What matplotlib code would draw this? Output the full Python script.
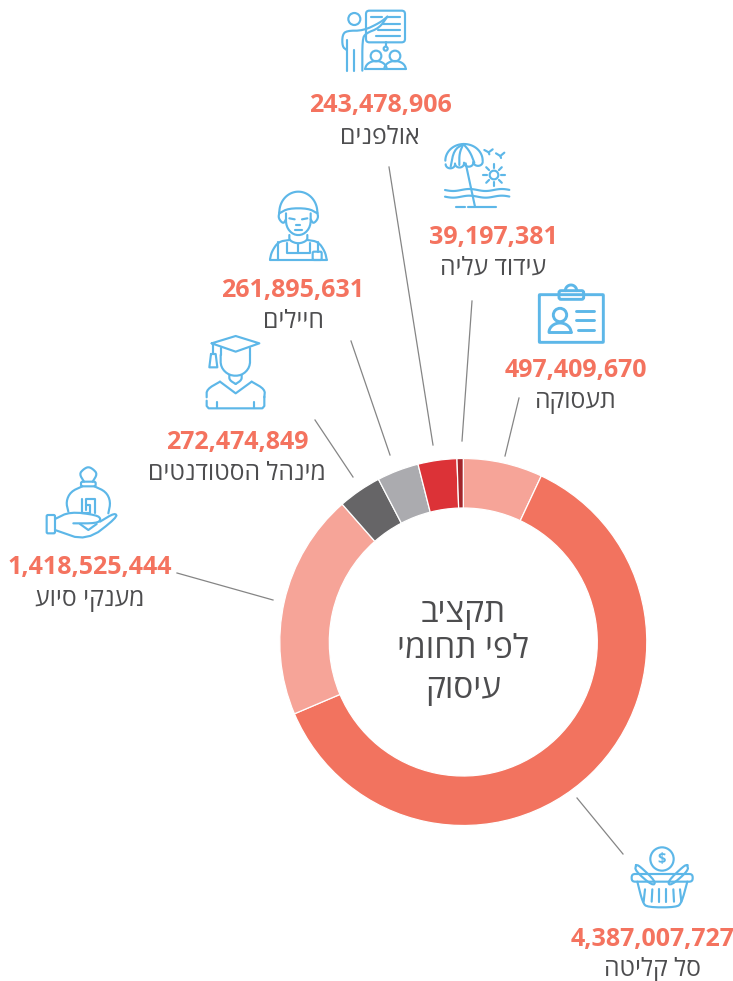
import numpy as np
import matplotlib

matplotlib.use("Agg")
import matplotlib.pyplot as plt
from matplotlib.patches import Circle, FancyBboxPatch

plt.rcParams["font.family"] = ["Open Sans", "DejaVu Sans"]

# Datos, en sentido horario desde las 12
categorias = ["תעסוקה", "סל קליטה", "מענקי סיוע", "מינהל הסטודנטים",
              "חיילים", "אולפנים", "עידוד עליה"]
valores = [497409670, 4387007727, 1418525444, 272474849,
           261895631, 243478906, 39197381]
colores = ["#F6A498", "#F2735F", "#F6A498", "#666567",
           "#ABABAF", "#DC3237", "#A3262B"]
titulo_centro = ["תקציב", "לפי תחומי", "עיסוק"]

# Posición en píxeles del rótulo (x, y número, y texto) y de la línea guía
rotulos = [(576, 370.5, 402), (653, 939.5, 970), (90, 567.5, 599), (237, 442.5, 473),
           (293, 290.5, 321), (380, 105.5, 137), (493, 237.5, 268)]
guias = [((519, 398), (505, 456)), ((577, 798), (623, 854)),
         ((177, 573), (273, 600)), ((315, 420), (353, 477)),
         ((351, 341), (390, 455)), ((389, 167), (433, 445)),
         ((472, 301), (462, 441))]

AZUL = "#5DB7E8"
CORAL = "#F4735F"
GRIS = "#4D4D4F"
W, H = 733, 981

fig = plt.figure(figsize=(W / 100, H / 100), dpi=100, facecolor="white")
ax = fig.add_axes([0, 0, 1, 1])
ax.set_xlim(0, W)
ax.set_ylim(H, 0)
ax.axis("off")

# Dona
cx, cy, r = 463.3, 642, 183.5
ax_pie = fig.add_axes([(cx - r) / W, (H - cy - r) / H, 2 * r / W, 2 * r / H])
ax_pie.pie(valores, colors=colores, startangle=90, counterclock=False, radius=1,
           wedgeprops=dict(width=49.5 / r, edgecolor="white", linewidth=0.9))
ax_pie.set_xlim(-1, 1)
ax_pie.set_ylim(-1, 1)


def heb(txt):
    # matplotlib no aplica bidi: se invierte el orden a mano
    return txt[::-1]


for (x0, y0), (x1, y1) in guias:
    ax.plot([x0, x1], [y0, y1], color="#858585", lw=0.9)

for nombre, valor, (x, y_num, y_txt) in zip(categorias, valores, rotulos):
    ax.text(x, y_num, f"{valor:,}", color=CORAL, fontsize=18, fontweight="bold",
            ha="center", va="center")
    ax.text(x, y_txt, heb(nombre), color=GRIS, fontsize=17.8,
            ha="center", va="center")

for linea, y in zip(titulo_centro, [614, 650, 690]):
    ax.text(463, y, heb(linea), color=GRIS, fontsize=24, ha="center", va="center")


def suave(pts, n=2):
    pts = np.asarray(pts, float)
    for _ in range(n):
        q = 0.75 * pts[:-1] + 0.25 * pts[1:]
        s = 0.25 * pts[:-1] + 0.75 * pts[1:]
        pts = np.vstack([pts[0], np.column_stack([q, s]).reshape(-1, 2), pts[-1]])
    return pts


def arco(x, y, rx, ry, a0=0, a1=180):
    t = np.radians(np.linspace(a0, a1, 40))
    return np.column_stack([x + rx * np.cos(t), y - ry * np.sin(t)])


class Icono:
    def __init__(self, ox, oy, lw=1.55):
        self.ox, self.oy, self.lw = ox, oy, lw

    def z(self, pts):
        pts = np.asarray(pts, float)
        return self.ox + pts[:, 0] / 3, self.oy + pts[:, 1] / 3

    def l(self, *trazos):
        for pts in trazos:
            x, y = self.z(pts)
            ax.plot(x, y, color=AZUL, lw=self.lw, solid_capstyle="round",
                    solid_joinstyle="round")

    def s(self, *trazos):
        self.l(*[suave(p) for p in trazos])

    def c(self, x, y, radio):
        ax.add_patch(Circle((self.ox + x / 3, self.oy + y / 3), radio / 3,
                            fill=False, ec=AZUL, lw=self.lw))

    def r(self, x0, y0, x1, y1, pad=6):
        ax.add_patch(FancyBboxPatch(
            (self.ox + x0 / 3, self.oy + y0 / 3), (x1 - x0) / 3, (y1 - y0) / 3,
            boxstyle=f"round,pad=0,rounding_size={pad / 3}",
            fill=False, ec=AZUL, lw=self.lw))


# Pizarra y alumnos
i = Icono(300, 0)
i.r(198, 32, 315, 127, 10)
i.l([(212, 50), (245, 50)], [(262, 50), (300, 50)], [(250, 72), (300, 72)],
    [(235, 90), (300, 90)], [(228, 108), (300, 108)])
i.c(163, 57, 18)
i.s([(140, 150), (127, 140), (127, 105), (140, 92), (190, 92), (240, 68), (262, 50)])
i.s([(187, 212), (187, 118), (197, 100), (238, 84), (262, 50)])
i.l([(140, 120), (140, 212)], [(163, 150), (163, 212)])
i.l([(257, 127), (257, 138)])
i.c(257, 146, 6)
i.c(228, 168, 16)
i.c(285, 168, 16)
i.l(arco(228, 207, 32, 24), arco(285, 207, 32, 24), [(196, 207), (317, 207)])

# Sombrilla
i = Icono(300, 0)
i.l(arco(492, 482, 56, 50))
bordes = [437, 465, 492, 520, 548]
for a, b in zip(bordes[:-1], bordes[1:]):
    i.l(arco((a + b) / 2, 493 - (a - 437) * 0.09, (b - a) / 2, 12, 180, 360))
i.s([(490, 432), (462, 450), (452, 500)], [(490, 432), (478, 460), (478, 495)],
    [(490, 432), (510, 455), (523, 488)])
i.l([(497, 490), (525, 620)])
for yo in [570, 590]:
    xo = np.linspace(435, 628, 60)
    i.l(np.column_stack([xo, yo + 3 * np.sin((xo - 435) / 15.5)]))
i.l([(468, 620), (495, 620)], [(503, 620), (588, 620)])
i.c(582, 525, 13)
for ang in np.radians(np.arange(0, 360, 45)):
    i.l([(582 + 21 * np.cos(ang), 525 + 21 * np.sin(ang)),
         (582 + 33 * np.cos(ang), 525 + 33 * np.sin(ang))])
i.l([(553, 450), (566, 457), (578, 448)], [(588, 460), (601, 468), (613, 458)],
    [(566, 457), (568, 463)], [(601, 468), (603, 474)])

# Credencial
i = Icono(300, 0, lw=2.1)
i.r(718, 884, 910, 1027, 2)
i.l(arco(813, 872, 17, 17, 0, 180))
i.r(777, 872, 851, 898, 6)
i.c(780, 945, 20)
i.l(arco(780, 997, 33, 28), [(747, 997), (813, 997)])
i.l([(828, 932), (882, 932)], [(828, 961), (882, 961)], [(835, 990), (882, 990)])

# Soldado
i = Icono(0, 180)
i.l(arco(895, 97, 57, 62))
i.s([(838, 97), (835, 115), (850, 132), (858, 118)],
    [(952, 97), (955, 115), (940, 132), (932, 118)],
    [(838, 100), (865, 85), (925, 85), (952, 100)],
    [(858, 100), (858, 140), (880, 165), (910, 165), (932, 140), (932, 100)],
    [(868, 165), (868, 182), (895, 192), (922, 182), (922, 165)],
    [(810, 238), (815, 215), (835, 185), (868, 180)],
    [(922, 180), (955, 185), (975, 215), (980, 238)])
i.l([(810, 240), (980, 240)], [(868, 115), (884, 118)], [(906, 118), (922, 115)],
    [(889, 135), (901, 135)], [(885, 150), (905, 150)])
i.l([(835, 185), (835, 240)], [(955, 185), (955, 215)],
    [(860, 190), (860, 218), (895, 218), (930, 218), (930, 190)], [(895, 192), (895, 218)])
i.r(938, 215, 965, 240, 4)

# Graduado
i = Icono(0, 180)
i.l([(635, 490), (707, 468), (778, 490), (707, 515), (635, 490)])
i.l([(662, 505), (662, 525)], [(750, 505), (750, 525)], [(640, 495), (640, 522)])
i.l([(633, 522), (647, 522), (652, 562), (628, 562), (633, 522)])
i.s([(662, 525), (662, 562), (688, 587), (725, 587), (750, 562), (750, 525)],
    [(688, 585), (688, 600), (707, 612)], [(725, 585), (725, 600), (707, 612)],
    [(620, 652), (620, 628), (660, 605)], [(755, 605), (795, 628), (793, 652)])
i.l([(660, 605), (707, 640), (755, 605)], [(793, 650), (793, 678), (787, 685),
                                           (626, 685), (620, 678), (620, 662)])
i.l([(652, 665), (652, 685)], [(762, 665), (762, 685)])

# Bolsa de dinero y mano
i = Icono(0, 180)
i.s([(252, 905), (238, 882), (250, 868), (265, 860), (280, 868), (292, 882), (278, 905)])
i.r(243, 905, 287, 919, 5)
i.s([(205, 995), (198, 965), (212, 935), (247, 919)],
    [(283, 919), (318, 935), (332, 965), (325, 1000)])
i.l([(245, 958), (245, 998), (270, 998), (270, 975), (258, 975)],
    [(258, 990), (258, 958), (284, 958), (284, 998)])
i.r(140, 1005, 165, 1060, 4)
i.s([(165, 1017), (210, 995), (290, 1005), (304, 1018), (290, 1030), (220, 1030)],
    [(165, 1050), (260, 1083), (352, 1012), (345, 998), (300, 1025)])
i.l([(240, 1032), (265, 1050), (290, 1032)])

# Cesta
i = Icono(550, 800)
i.c(336, 177, 35)
i.r(245, 222, 428, 245, 10)
i.s([(258, 195), (268, 197), (318, 245), (308, 258), (255, 212), (258, 195)],
    [(412, 195), (402, 197), (352, 245), (362, 258), (415, 212), (412, 195)])
i.s([(262, 245), (278, 308), (292, 322), (380, 322), (395, 308), (412, 245)])
for xr, dx in zip([285, 307, 328, 349, 370, 390], [-4, -2, 0, 0, 2, 4]):
    i.l([(xr, 268), (xr + dx, 305)])
ax.text(550 + 336 / 3, 800 + 177 / 3, "$", color=AZUL, fontsize=10.5, fontweight="bold",
        ha="center", va="center")

fig.savefig("out.png", dpi=100)
